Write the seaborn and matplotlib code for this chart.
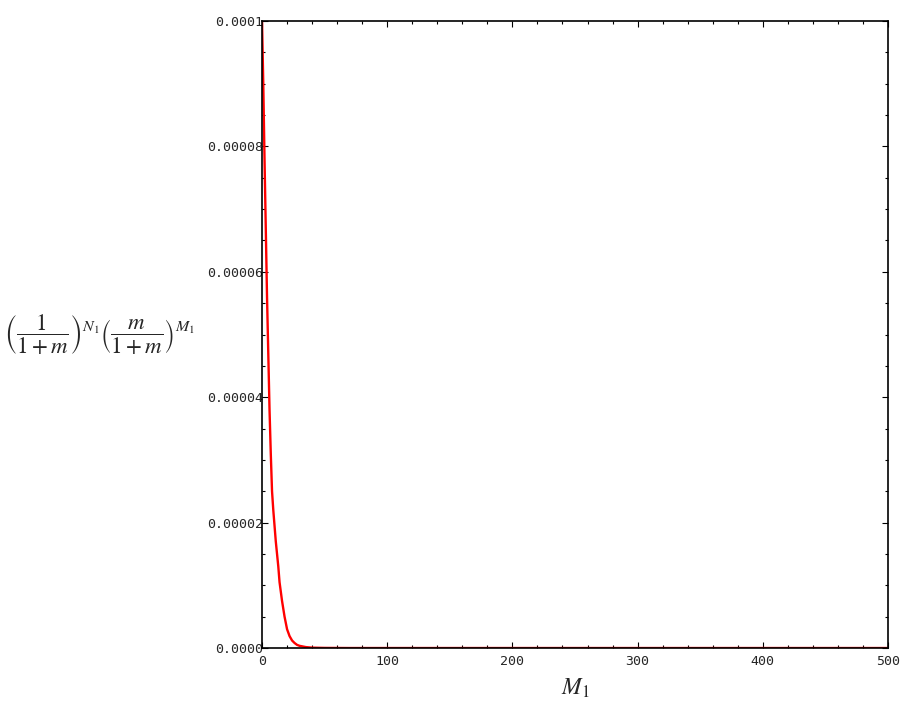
import numpy as np
import matplotlib
matplotlib.use("Agg")
import matplotlib.pyplot as plt
import pandas as pd
import seaborn as sns
from matplotlib.ticker import MultipleLocator

# values (y in units of 1e-6)
m1_values = [0, 1, 2, 3, 4, 5, 6, 7, 8, 9, 10, 11, 12, 13, 14, 15, 16, 18, 20, 22, 24, 26, 28, 30,
             35, 40, 50, 60, 70, 100, 200, 300, 400, 500]
prob_values = [100, 90, 78, 67, 56, 47, 38, 31, 25, 22, 19.5, 17, 15, 13, 10.5, 9, 7.5, 5, 3, 1.9,
               1.2, 0.8, 0.5, 0.35, 0.15, 0.06, 0.02, 0.01, 0, 0, 0, 0, 0, 0]
x_ticks = [0, 100, 200, 300, 400, 500]
y_ticks = [0, 0.00002, 0.00004, 0.00006, 0.00008, 0.0001]
y_tick_labels = ["0.0000", "0.00002", "0.00004", "0.00006", "0.00008", "0.0001"]

df = pd.DataFrame({"M1": m1_values, "p": np.array(prob_values) * 1e-6})

sns.set_style("ticks")
plt.rcParams["mathtext.fontset"] = "stix"

fig = plt.figure(figsize=(9.12, 7.09), dpi=100)
ax = fig.add_axes([0.2873, 0.086, 0.6864, 0.8844])
sns.lineplot(data=df, x="M1", y="p", color="red", linewidth=1.7, ax=ax)

ax.set_xlim(0, 500)
ax.set_ylim(0, 0.0001)
ax.set_xticks(x_ticks)
ax.set_xticklabels([str(t) for t in x_ticks], family="DejaVu Sans Mono", fontsize=9.5)
ax.set_yticks(y_ticks)
ax.set_yticklabels(y_tick_labels, family="DejaVu Sans Mono", fontsize=9.5)
ax.xaxis.set_minor_locator(MultipleLocator(20))
ax.yaxis.set_minor_locator(MultipleLocator(0.000005))
ax.tick_params(which="both", direction="in", top=True, right=True, width=0.8, color="black")
ax.tick_params(which="major", length=4)
ax.tick_params(which="minor", length=2.5)
ax.tick_params(axis="y", which="major", pad=-1)
ax.tick_params(axis="x", which="major", pad=5)
for s in ax.spines.values():
    s.set_linewidth(1.2)
    s.set_color("black")

ax.set_xlabel(r"$M_1$", fontsize=17)
ax.xaxis.set_label_coords(0.5, -0.045)
ax.set_ylabel(r"$\left(\dfrac{1}{1+m}\right)^{N_1}\left(\dfrac{m}{1+m}\right)^{M_1}$",
              fontsize=16.5, rotation=0, ha="center", va="center")
ax.yaxis.set_label_coords(-0.26, 0.5)

fig.savefig("out.png", dpi=100)
